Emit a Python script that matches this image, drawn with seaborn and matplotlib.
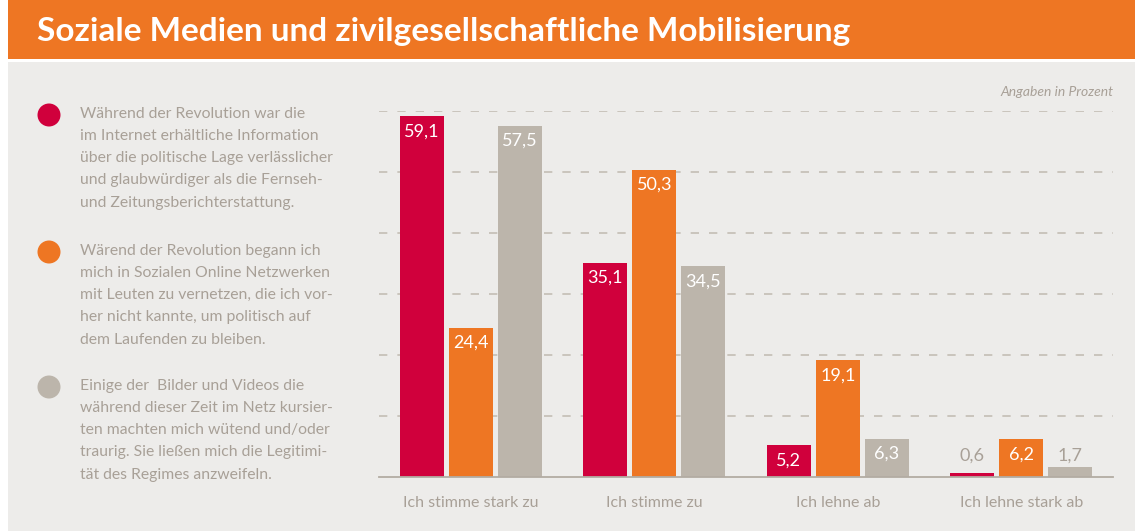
import numpy as np
import pandas as pd
import seaborn as sns
import matplotlib.pyplot as plt
from matplotlib.patches import Rectangle, Circle

# %% data
categories = ['Ich stimme stark zu', 'Ich stimme zu', 'Ich lehne ab', 'Ich lehne stark ab']
internet_info = [59.1, 35.1, 5.2, 0.6]
netzwerke = [24.4, 50.3, 19.1, 6.2]
bilder_videos = [57.5, 34.5, 6.3, 1.7]

statements = [
    'Während der Revolution war die\nim Internet erhältliche Information\n'
    'über die politische Lage verlässlicher\nund glaubwürdiger als die Fernseh-\n'
    'und Zeitungsberichterstattung.',
    'Wärend der Revolution begann ich\nmich in Sozialen Online Netzwerken\n'
    'mit Leuten zu vernetzen, die ich vor-\nher nicht kannte, um politisch auf\n'
    'dem Laufenden zu bleiben.',
    'Einige der  Bilder und Videos die\nwährend dieser Zeit im Netz kursier-\n'
    'ten machten mich wütend und/oder\ntraurig. Sie ließen mich die Legitimi-\n'
    'tät des Regimes anzweifeln.',
]
series_keys = ['internet', 'netzwerke', 'bilder']

red = '#D0003C'
orange = '#EE7623'
taupe = '#BCB5AB'
palette = [red, orange, taupe]
bg = '#EDECEA'
txt_grey = '#A8A097'
line_grey = '#B3ACA3'

df = pd.DataFrame({
    'kategorie': categories * 3,
    'aussage': np.repeat(series_keys, len(categories)),
    'prozent': internet_info + netzwerke + bilder_videos,
})

sns.set_style('white')
plt.rcParams['font.family'] = ['Lato', 'DejaVu Sans']

W, H = 1140, 531
fig = plt.figure(figsize=(W / 100, H / 100), dpi=100, facecolor='white')

# %% background layer in pixel coordinates
bgax = fig.add_axes([0, 0, 1, 1], zorder=0)
bgax.set_xlim(0, W)
bgax.set_ylim(H, 0)
bgax.axis('off')
bgax.add_patch(Rectangle((8, 0), 1127, 59, color=orange, lw=0))
bgax.add_patch(Rectangle((8, 62), 1127, H - 62, color=bg, lw=0))
bgax.text(37, 31, 'Soziale Medien und zivilgesellschaftliche Mobilisierung',
          color='white', fontsize=24, fontweight='bold', va='center', ha='left')

dot_y = [115, 252, 387]
for i, (s, c) in enumerate(zip(statements, palette)):
    bgax.add_patch(Circle((49, dot_y[i]), 11.5, color=c, lw=0))
    bgax.text(80, dot_y[i] - 8, s, color=txt_grey, fontsize=11.3,
              va='top', ha='left', linespacing=1.74)

# %% bar chart
ax = fig.add_axes([379 / W, 1 - 477 / H, (1113 - 379) / W, (477 - 110.7) / H], zorder=1)
ax.set_facecolor('none')
sns.barplot(data=df, x='kategorie', y='prozent', hue='aussage', hue_order=series_keys,
            order=categories, palette=palette, width=0.8, gap=0.1, legend=False,
            saturation=1, linewidth=0, ax=ax)

ax.set_xlim(-0.5, 3.5)
ax.set_ylim(0, 60)
ax.set_yticks(range(10, 61, 10))
ax.set_yticklabels([])
ax.tick_params(axis='y', length=0)
ax.set_axisbelow(True)
ax.yaxis.grid(True, linestyle=(0, (5, 6)), color='#C4BEB5', lw=1.2)
ax.xaxis.grid(False)

ax.set_xlabel('')
ax.set_ylabel('')
ax.set_xticks(range(len(categories)))
ax.set_xticklabels(categories, color=txt_grey, fontsize=11.5)
ax.tick_params(axis='x', which='major', length=0, pad=14)
ax.set_xticks(np.arange(-0.5, len(categories), 1), minor=True)
ax.tick_params(axis='x', which='minor', direction='in', length=6.5, width=1.1, color=line_grey)

for side in ['top', 'right', 'left']:
    ax.spines[side].set_visible(False)
ax.spines['bottom'].set_color(line_grey)
ax.spines['bottom'].set_linewidth(1.3)

# value labels
small_label_y = 3.5
for cont in ax.containers:
    for bar in cont:
        v = bar.get_height()
        xc = bar.get_x() + bar.get_width() / 2
        lab = f'{v:.1f}'.replace('.', ',')
        if v < 3:
            ax.text(xc, small_label_y, lab, ha='center', va='center',
                    color=txt_grey, fontsize=13)
        else:
            ax.annotate(lab, (xc, v), xytext=(0, -15), textcoords='offset pixels',
                        ha='center', va='center', color='white', fontsize=13)

ax.text(1.0, 1.05, 'Angaben in Prozent', transform=ax.transAxes, ha='right',
        va='center', color=txt_grey, fontsize=10, style='italic')

plt.savefig('out.png', dpi=100, facecolor=fig.get_facecolor())
